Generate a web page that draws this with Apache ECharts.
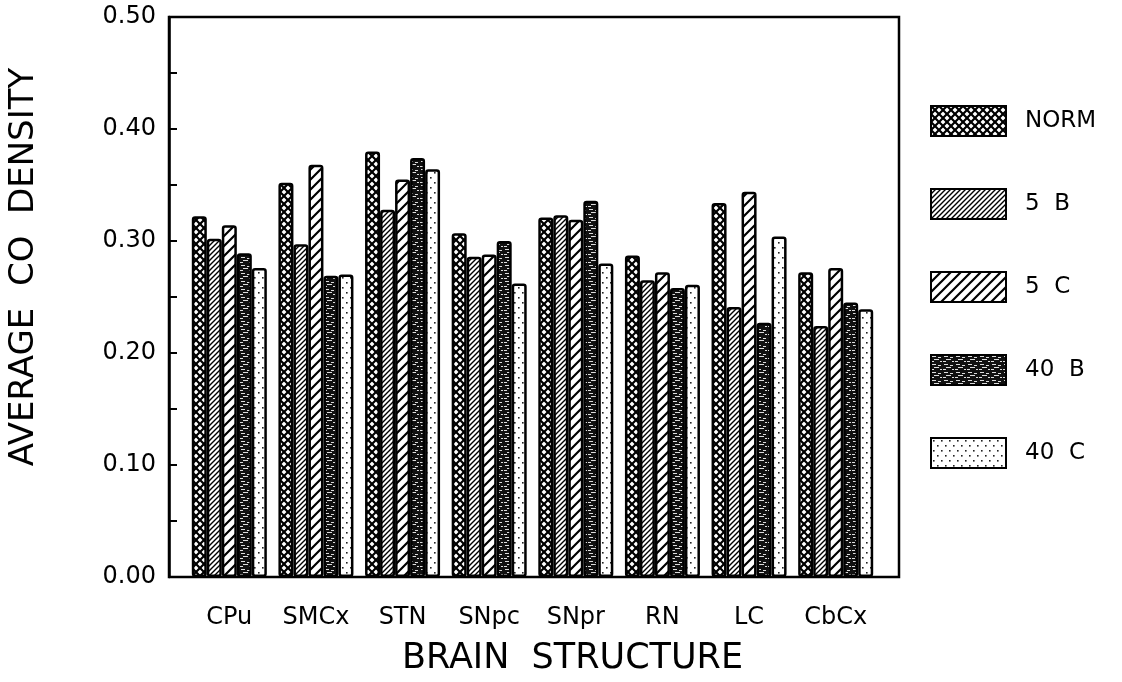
<!DOCTYPE html>
<html>
<head>
<meta charset="utf-8">
<script src="https://cdn.jsdelivr.net/npm/echarts@6/dist/echarts.min.js"></script>
<style>
html,body{margin:0;padding:0;background:#fff;}
#chart{width:1122px;height:682px;}
</style>
</head>
<body>
<div id="chart"></div>
<script>
const categories = ['CPu','SMCx','STN','SNpc','SNpr','RN','LC','CbCx'];
const seriesNames = ['NORM','5  B','5  C','40  B','40  C'];
const normVals = [0.322, 0.352, 0.380, 0.307, 0.321, 0.287, 0.334, 0.272];
const b5Vals   = [0.302, 0.297, 0.328, 0.286, 0.323, 0.265, 0.241, 0.224];
const c5Vals   = [0.314, 0.368, 0.355, 0.288, 0.319, 0.272, 0.344, 0.276];
const b40Vals  = [0.289, 0.269, 0.374, 0.300, 0.336, 0.258, 0.227, 0.245];
const c40Vals  = [0.276, 0.270, 0.364, 0.262, 0.280, 0.261, 0.304, 0.239];
const yMin = 0, yMax = 0.5, yStep = 0.1;

function mk(w, h, draw){
  const c = document.createElement('canvas');
  c.width = w; c.height = h;
  const g = c.getContext('2d');
  g.fillStyle = '#fff'; g.fillRect(0,0,w,h);
  draw(g, w, h);
  return c;
}
function diag(g, w, h, lw, dir){
  g.strokeStyle = '#000'; g.lineWidth = lw; g.lineCap='square';
  g.beginPath();
  for (let k=-1;k<=1;k++){
    if (dir>0){ g.moveTo(k*w, h); g.lineTo(k*w + w, 0); }
    else { g.moveTo(k*w, 0); g.lineTo(k*w + w, h); }
  }
  g.stroke();
}
const patNorm = mk(8, 8, (g,w,h)=>{ diag(g,w,h,2.2,1); diag(g,w,h,2.2,-1); });
const patB5 = mk(5, 5, (g,w,h)=>{ diag(g,w,h,1.4,1); });
const patC5 = mk(10, 10, (g,w,h)=>{ diag(g,w,h,2.2,1); });
const patB40 = mk(12, 8, (g,w,h)=>{
  g.fillStyle='#111'; g.fillRect(0,0,w,h);
  g.fillStyle='#ddd';
  g.fillRect(1,1,4,1); g.fillRect(7,2,3,1); g.fillRect(3,4,5,1); g.fillRect(0,6,3,1); g.fillRect(9,6,2,1);
});
const patC40 = mk(8, 10, (g,w,h)=>{
  g.fillStyle='#222';
  g.fillRect(2,2,1.6,1.6); g.fillRect(6,7,1.6,1.6);
});
const patterns = [patNorm, patB5, patC5, patB40, patC40];
const dataSets = [normVals, b5Vals, c5Vals, b40Vals, c40Vals];

const FONT = 'DejaVu Sans';
const chart = echarts.init(document.getElementById('chart'), null, {renderer:'canvas'});
chart.setOption({
  animation: false,
  backgroundColor: '#fff',
  grid: [
    {left: 169, right: 223, top: 17, bottom: 105, show: true, borderColor: '#000', borderWidth: 2.5,
     containLabel: false, outerBoundsMode: 'none'},
    {left: 186, right: 243, top: 17, bottom: 105, containLabel: false, outerBoundsMode: 'none'}
  ],
  legend: {
    orient: 'vertical', left: 925, top: 100,
    itemWidth: 75, itemHeight: 30, itemGap: 51, icon: 'rect',
    textStyle: {fontFamily: FONT, fontSize: 23, color: '#000', padding:[0,0,0,14]},
    data: seriesNames
  },
  xAxis: [
    {
      type: 'category', gridIndex: 0, data: categories, show: false
    },
    {
      type: 'category', gridIndex: 1, data: categories,
      axisLine: {show: false}, axisTick: {show: false},
      axisLabel: {fontFamily: FONT, fontSize: 24, color: '#000', margin: 29, interval: 0},
      name: 'BRAIN  STRUCTURE', nameLocation: 'middle', nameGap: 64,
      nameTextStyle: {fontFamily: FONT, fontSize: 35, color: '#000', padding: [0,0,0,80]}
    }
  ],
  yAxis: [
    {
      type: 'value', gridIndex: 0, min: yMin, max: yMax, interval: yStep,
      axisLine: {show: true, lineStyle: {color: '#000', width: 2.5}},
      axisTick: {show: true, inside: true, length: 8, lineStyle: {color:'#000', width: 2}},
      minorTick: {show: true, splitNumber: 2, length: 8, lineStyle: {color:'#000', width: 2}},
      splitLine: {show: false},
      axisLabel: {fontFamily: FONT, fontSize: 24, color: '#000', margin: 13,
        formatter: v => v.toFixed(2)},
      name: 'AVERAGE  CO  DENSITY', nameLocation: 'middle', nameGap: 128,
      nameTextStyle: {fontFamily: FONT, fontSize: 34, color: '#000', padding: [0,0,0,60]}
    },
    {
      type: 'value', gridIndex: 1, min: yMin, max: yMax, interval: yStep, show: false
    }
  ],
  series: dataSets.map((d, i) => ({
    name: seriesNames[i], type: 'bar', data: d, xAxisIndex: 1, yAxisIndex: 1,
    barGap: '0%', barCategoryGap: '13.4%',
    itemStyle: {color: {image: patterns[i], repeat: 'repeat'}, borderColor: '#000', borderWidth: 2.5, borderRadius: 2}
  }))
});
</script>
</body>
</html>
